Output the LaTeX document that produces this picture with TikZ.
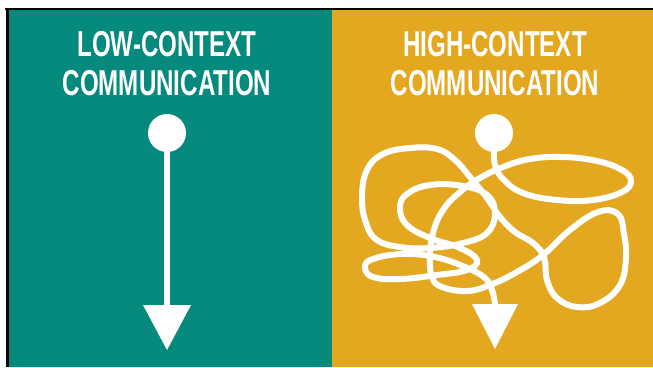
\documentclass[tikz,border=0pt]{standalone}
\usepackage{fontspec}
\usepackage{tikz}
\newfontfamily\headfont{Liberation Sans}[FakeStretch=0.67]

\definecolor{panelteal}{RGB}{5,138,125}
\definecolor{panelgold}{RGB}{227,168,31}

\begin{document}
\begin{tikzpicture}
  [
    x=1pt, y=-1pt,
    title/.style={text=white, align=center, inner sep=0pt,
      font=\headfont\bfseries\fontsize{36}{39}\selectfont},
    dot/.style={circle, fill=white, inner sep=0pt, minimum size=38pt},
    stem/.style={draw=white, line width=6.5pt},
    scribble/.style={draw=white, line width=6pt, line cap=round, line join=round}
  ]
  \useasboundingbox (0,0) rectangle (653,367);

  % the two panels and their frame
  \fill [panelteal] (9,10) rectangle (332,367);
  \fill [panelgold] (332,10) rectangle (653,367);
  \draw [line width=2pt] (5,8.5) -- (653,8.5);
  \draw [line width=3pt] (7.5,8) -- (7.5,367);

  \node (ltitle) at (167,64) [title] {LOW-CONTEXT\\COMMUNICATION};
  \node (htitle) at (495,64) [title] {HIGH-CONTEXT\\COMMUNICATION};

  \node (ldot) at (167,133) [dot] {};
  \node (hdot) at (494,133) [dot] {};

  \coordinate (larrow) at (167,305);
  \coordinate (harrow) at (495,304);

  % straight line
  \draw [stem] (ldot.center) -- (larrow);
  \fill [white] (larrow) ++(-24,0) -- ++(48,0) -- ++(-24,45) -- cycle;

  % tangled line
  \draw [scribble] plot [smooth, tension=0.7] coordinates {
    (hdot.south) (495,165) (503,179) (523,193) (557,200) (593,200)
    (622,192) (631,181) (622,170) (597,161) (563,157) (530,159)
    (503,167) (480,178) (460,192) (443,210) (433,233) (430,257)
    (432,277) (442,287) (467,291) (490,285) (517,272) (543,255)
    (570,230) (598,212) (618,214) (624,234) (626,258) (620,285)
    (600,303) (577,307) (557,298) (547,280) (544,257) (533,243)
    (515,232) (500,217) (487,198) (470,177) (455,160) (437,149)
    (410,148) (383,154) (367,170) (362,197) (366,223) (377,240)
    (400,247) (430,248) (463,243) (487,233) (495,213) (487,195)
    (463,186) (430,185) (407,194) (400,208) (407,225) (430,238)
    (460,248) (477,260) (467,270) (437,275) (400,279) (373,277)
    (365,267) (373,259) (402,254) (435,257) (465,267) (485,278)
    (492,290) (harrow)};
  \fill [white] (harrow) ++(-23,0) -- ++(46,0) -- ++(-23,45) -- cycle;
\end{tikzpicture}
\end{document}
